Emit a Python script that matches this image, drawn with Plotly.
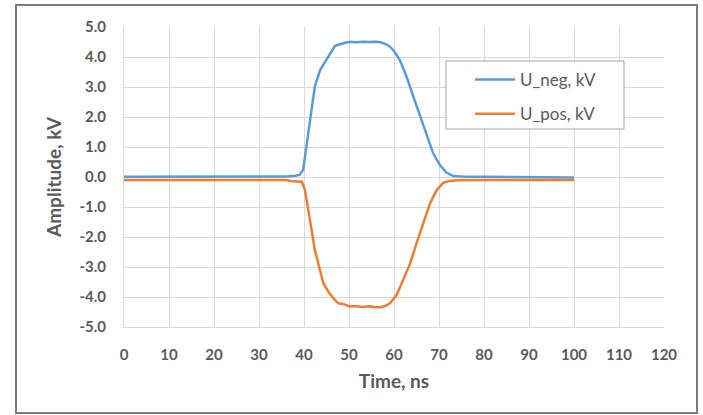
import plotly.graph_objects as go

# Time axis (ns) and amplitudes (kV)
t_neg = [0, 10, 20, 30, 36, 38, 39, 39.8, 40.2, 41, 41.7, 42.4, 43.6, 44.7, 45.8, 46.9,
         48.7, 50.2, 51.5, 53, 54.5, 56, 57, 58, 59, 60, 61.3, 62.8, 64.3, 65.8, 67.3,
         68.7, 70.2, 71.7, 73.2, 76, 80, 90, 100]
u_neg = [0.01, 0.01, 0.01, 0.01, 0.02, 0.04, 0.07, 0.23, 0.68, 1.57, 2.34, 3.01, 3.57, 3.84,
         4.07, 4.37, 4.46, 4.51, 4.49, 4.51, 4.50, 4.51, 4.49, 4.44, 4.36, 4.20, 3.90, 3.34,
         2.68, 2.01, 1.34, 0.79, 0.40, 0.14, 0.03, 0.01, 0.01, 0.00, -0.02]

t_pos = [0, 10, 20, 30, 36, 37, 39.5, 40.2, 41, 41.7, 42.4, 43.6, 44.3, 45.4, 46.5, 47.6,
         48.7, 50.2, 51.5, 53, 54.5, 56, 57, 58, 59.1, 60.6, 62.1, 63.6, 65, 66.5, 68,
         69.5, 71, 72.4, 74, 80, 90, 100]
u_pos = [-0.10, -0.10, -0.10, -0.10, -0.10, -0.13, -0.16, -0.43, -1.10, -1.77, -2.43, -3.10,
         -3.54, -3.82, -4.04, -4.21, -4.23, -4.32, -4.30, -4.33, -4.31, -4.34, -4.34, -4.30,
         -4.21, -3.93, -3.43, -2.88, -2.21, -1.54, -0.88, -0.43, -0.19, -0.13, -0.11, -0.10,
         -0.10, -0.10]

x_ticks = list(range(0, 121, 10))
y_ticks = [5.0, 4.0, 3.0, 2.0, 1.0, 0.0, -1.0, -2.0, -3.0, -4.0, -5.0]

FONT = "Lato"
GRAY = "#595959"

fig = go.Figure()
fig.add_trace(go.Scatter(x=t_neg, y=u_neg, mode="lines", name="U_neg, kV",
                         legendgroup="a", line=dict(color="#5b9bd5", width=2.5)))
fig.add_trace(go.Scatter(x=t_pos, y=u_pos, mode="lines", name="U_pos, kV",
                         legendgroup="b", line=dict(color="#ed7d31", width=2.5)))

L, R, T, B = 124, 39, 27, 88
W, H = 703, 415
pw, ph = W - L - R, H - T - B

def px(x):
    return (x - L) / pw

def py(y):
    return (H - B - y) / ph

fig.update_layout(
    width=W, height=H,
    margin=dict(l=L, r=R, t=T, b=B, autoexpand=False),
    paper_bgcolor="white", plot_bgcolor="white",
    font=dict(family=FONT, color=GRAY),
    showlegend=True,
    legend=dict(x=px(470), y=py(62), xanchor="left", yanchor="top",
                bgcolor="rgba(0,0,0,0)", borderwidth=0,
                font=dict(family=FONT, size=17, color=GRAY),
                itemwidth=40,
                traceorder="grouped", tracegroupgap=9),
    xaxis=dict(range=[0, 120], tickvals=x_ticks, ticktext=[str(v) for v in x_ticks],
               showgrid=True, gridcolor="#d9d9d9", gridwidth=1,
               zeroline=False, showline=True, linecolor="#d9d9d9", linewidth=1,
               mirror=False, ticks="", ticklabelstandoff=14,
               tickfont=dict(family=FONT, size=15, color=GRAY, weight="bold"),
               title=dict(text="Time, ns", standoff=12,
                          font=dict(family=FONT, size=19, color=GRAY, weight="bold"))),
    yaxis=dict(range=[-5, 5], tickvals=y_ticks, ticktext=[f"{v:.1f}" for v in y_ticks],
               showgrid=True, gridcolor="#d9d9d9", gridwidth=1,
               zeroline=False, showline=True, linecolor="#d9d9d9", linewidth=1,
               ticks="", ticklabelstandoff=14,
               tickfont=dict(family=FONT, size=15, color=GRAY, weight="bold"),
               title=dict(text="Amplitude, kV", standoff=12,
                          font=dict(family=FONT, size=19, color=GRAY, weight="bold"))),
    shapes=[
        # outer chart frame
        dict(type="rect", xref="paper", yref="paper",
             x0=px(16), x1=px(697), y0=py(413), y1=py(5),
             line=dict(color="#7a7a7a", width=2), fillcolor="rgba(0,0,0,0)", layer="below"),
        # legend box
        dict(type="rect", xref="paper", yref="paper",
             x0=px(446), x1=px(624), y0=py(129), y1=py(61),
             line=dict(color="#a6a6a6", width=1), fillcolor="white", layer="above"),
    ],
)

fig.write_html("out.html", config={"displayModeBar": False},
               post_script="document.body.style.margin='0';document.body.style.padding='0';")
